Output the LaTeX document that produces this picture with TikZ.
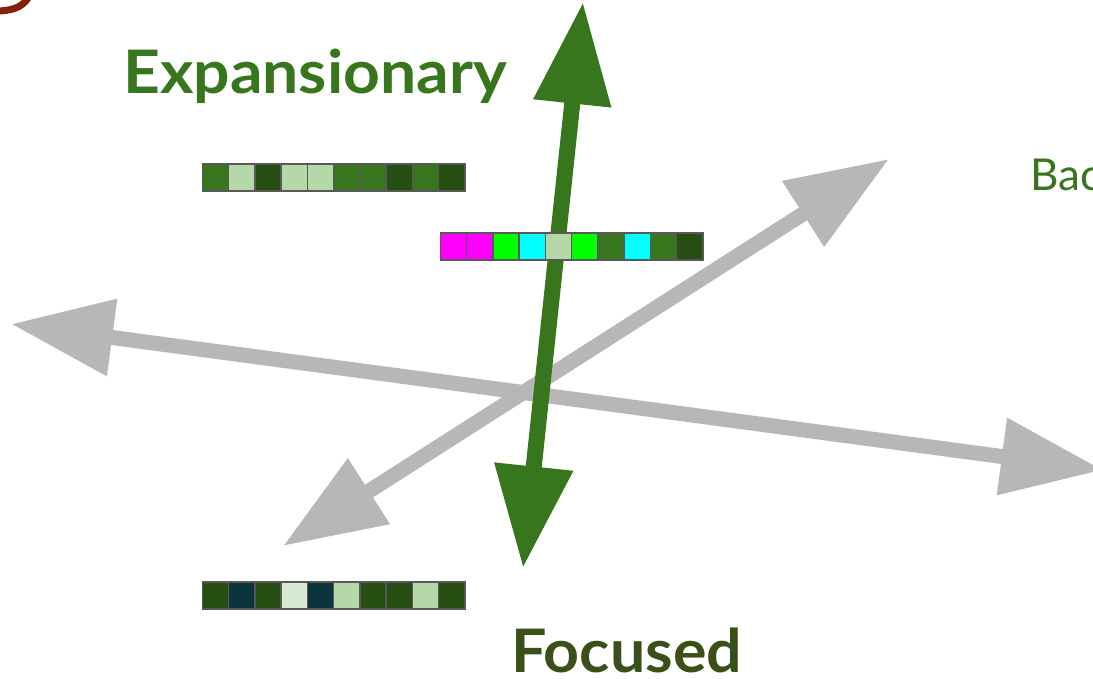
\documentclass[tikz,border=0pt]{standalone}
\usepackage{fontspec}
\usepackage{graphicx}
\setmainfont{Lato}
\usetikzlibrary{arrows.meta}
\definecolor{gmid}{HTML}{38761D}
\definecolor{gdark}{HTML}{274E13}
\definecolor{glight}{HTML}{B6D7A8}
\definecolor{gpale}{HTML}{D9EAD3}
\definecolor{teal}{HTML}{0C343D}
\definecolor{mag}{HTML}{FF00FF}
\definecolor{lime}{HTML}{00FF00}
\definecolor{cyn}{HTML}{00FFFF}
\definecolor{arrgray}{HTML}{B7B7B7}
\definecolor{cellborder}{HTML}{595959}
\definecolor{focusc}{HTML}{3A5019}
\definecolor{berry}{HTML}{85200C}
\begin{document}
\begin{tikzpicture}[x=1pt,y=-1pt,
  cell/.style={draw=cellborder, line width=1.5pt, anchor=north west, inner sep=0pt,
    minimum width=26.25pt, minimum height=27pt},
  grayarrow/.style={draw=arrgray, line width=15pt,
    {Triangle[length=102pt,width=74pt]}-{Triangle[length=102pt,width=74pt]}},
  greenarrow/.style={draw=gmid, line width=16pt,
    {Triangle[length=102pt,width=74pt]}-{Triangle[length=102pt,width=75pt]}},
  bigword/.style={font=\bfseries\fontsize{60}{60}\selectfont, anchor=base west, inner sep=0pt}
]
\useasboundingbox (0,0) rectangle (1093,678);
\fill[white] (0,0) rectangle (1093,678);

% red fragment at top-left
\draw[berry, line width=7pt] (-4,11) .. controls (10,11) and (22,8) .. (28,-2);

% gray axes
\coordinate (hL) at (11,324);
\coordinate (hR) at (1103,470);
\coordinate (dUR) at (889,159);
\coordinate (dLL) at (283,546);
\draw[grayarrow] (hL) -- (hR);
\draw[grayarrow] (dLL) -- (dUR);

% green axis
\coordinate (gT) at (583,2);
\coordinate (gB) at (523,568);
\draw[greenarrow] (gT) -- (gB);

% bars
\foreach \c [count=\i from 0] in {gmid,glight,gdark,glight,glight,gmid,gmid,gdark,gmid,gdark}
  \node[cell, fill=\c] (top\i) at (201.5+\i*26.25, 163) {};
\foreach \c [count=\i from 0] in {mag,mag,lime,cyn,glight,lime,gmid,cyn,gmid,gdark}
  \node[cell, fill=\c] (mid\i) at (439.5+\i*26.25, 232) {};
\foreach \c [count=\i from 0] in {gdark,teal,gdark,gpale,teal,glight,gdark,gdark,glight,gdark}
  \node[cell, fill=\c] (bot\i) at (201.5+\i*26.25, 581) {};

% labels
\node[bigword, text=gmid] (exp) at (123,93) {\scalebox{1.07}[1]{Expansionary}};
\node[bigword, text=focusc] (foc) at (511,672) {\scalebox{1.045}[1]{Focused}};
\node[font=\fontsize{44}{44}\selectfont, anchor=base west, inner sep=0pt, text=gmid] (bac) at (1030,190) {Bac};
\end{tikzpicture}
\end{document}
